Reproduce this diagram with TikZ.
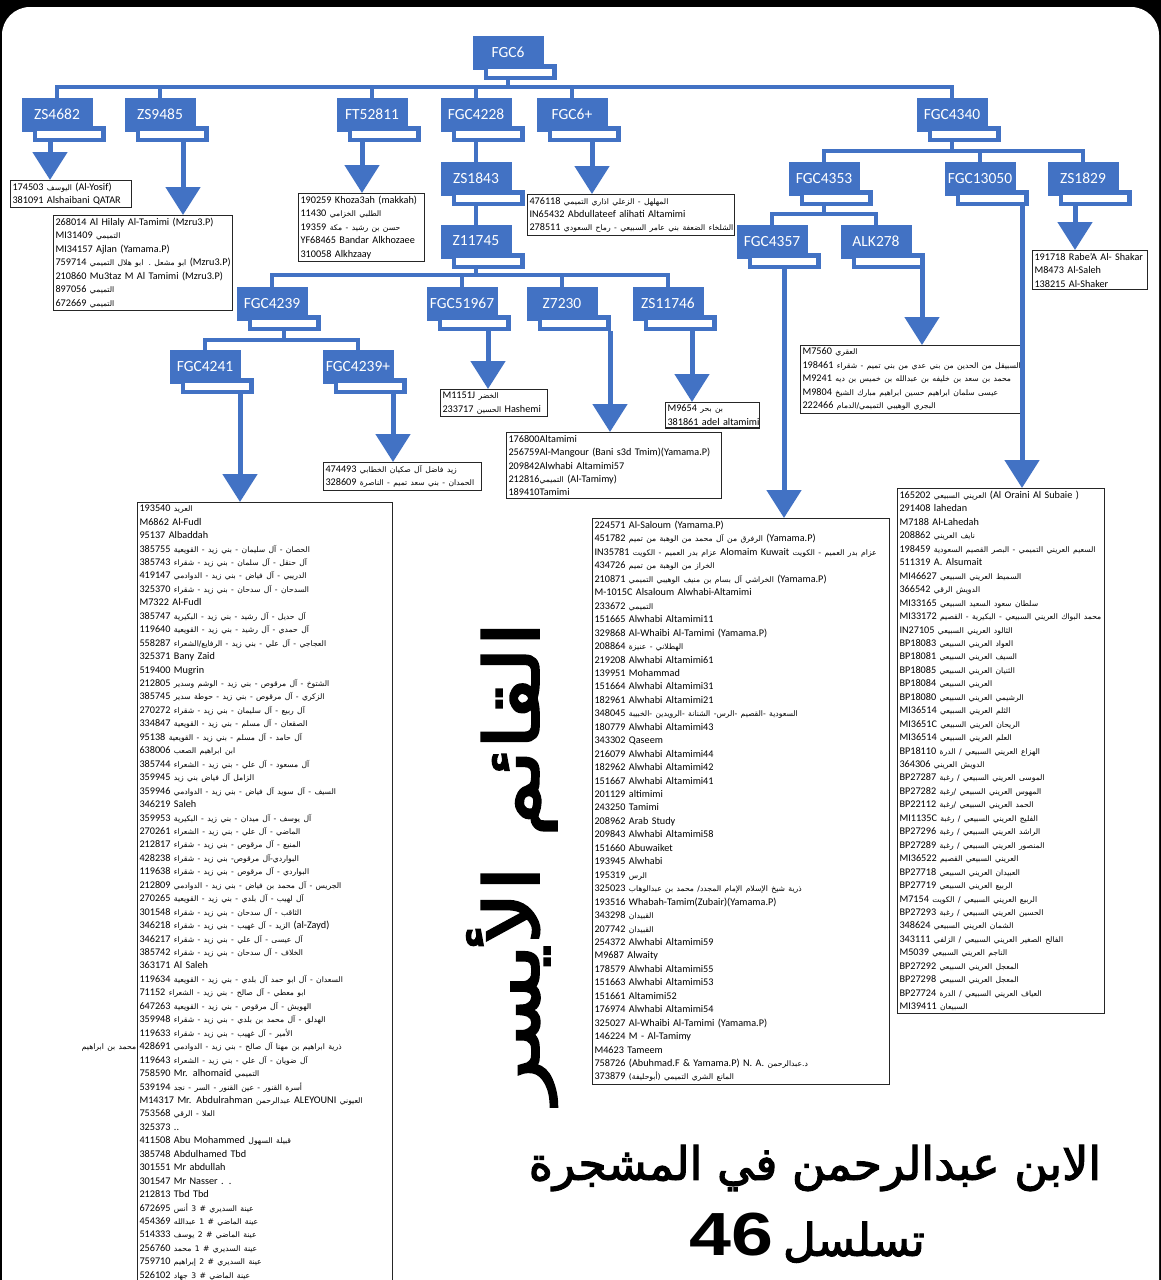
\documentclass[tikz,border=0pt]{standalone}
\usepackage{fontspec}
\usetikzlibrary{arrows.meta}
\setmainfont{Carlito}
\newfontfamily\arf[Script=Arabic,Scale=0.75]{DejaVu Sans}
\newfontfamily\arT[Script=Arabic,FakeBold=2.5]{DejaVu Sans}
\newfontfamily\libb{Liberation Sans}
\TeXXeTstate=1
\definecolor{hblue}{RGB}{66,114,196}
\newcommand\AR[1]{{\arf\beginR #1\endR}}
\newcommand\Li[1]{\mbox{#1}\\}
\newcommand\gnode[4]{%
  \node[gmain] (#1) at (#2,#3+2) {\raisebox{2pt}{#4}};
  \node[gsub] (#1s) at (#2+12,#3+21) {};}
\tikzset{
  gmain/.style={fill=hblue, text=white, minimum width=71pt, minimum height=34pt, inner sep=0pt, font=\fontsize{15.5}{15.5}\selectfont},
  gsub/.style={fill=white, draw=hblue, line width=4.5pt, minimum width=68.5pt, minimum height=11.5pt, inner sep=0pt},
  conn/.style={draw=hblue, line width=4pt},
  arr/.style={draw=hblue, line width=5pt, -{Triangle[width=34pt,length=28pt]}},
  lbox/.style={draw=black!85, line width=1.1pt, fill=white, anchor=north west, align=left, inner xsep=2pt, inner ysep=2.5pt, font=\fontsize{10.2}{13.45}\selectfont},
}
\begin{document}
\begin{tikzpicture}[x=1pt,y=-1pt]
\useasboundingbox (0,0) rectangle (1161,1280);
\fill[black] (0,0) rectangle (1161,1280);
\fill[white, rounded corners=28pt] (2,7) rectangle (1159,1330);

% ---------- hierarchy nodes ----------
\gnode{FGC6}{508}{51}{FGC6}
\gnode{ZS4682}{57}{113}{ZS4682}
\gnode{ZS9485}{160}{113}{ZS9485}
\gnode{FT52811}{372}{113}{FT52811}
\gnode{FGC4228}{476}{113}{FGC4228}
\gnode{FGC6p}{572}{113}{FGC6+}
\gnode{FGC4340}{952}{113}{FGC4340}
\gnode{ZS1843}{476}{177}{ZS1843}
\gnode{FGC4353}{824}{177}{FGC4353}
\gnode{FGC13050}{980}{177}{FGC13050}
\gnode{ZS1829}{1083}{177}{ZS1829}
\gnode{Z11745}{476}{240}{Z11745}
\gnode{FGC4357}{772}{240}{FGC4357}
\gnode{ALK278}{876}{240}{ALK278}
\gnode{FGC4239}{272}{302}{FGC4239}
\gnode{FGC51967}{462}{302}{FGC51967}
\gnode{Z7230}{562}{302}{Z7230}
\gnode{ZS11746}{668}{302}{ZS11746}
\gnode{FGC4241}{205}{365}{FGC4241}
\gnode{FGC4239p}{358}{365}{FGC4239+}

% ---------- buses ----------
\coordinate (b1) at (0,87);
\draw[conn] (FGC6 |- FGC6s.south) -- (FGC6 |- b1);
\draw[conn] (ZS4682.north) -- (ZS4682 |- b1) -- (FGC4340 |- b1) -- (FGC4340.north);
\foreach \n in {ZS9485,FT52811,FGC4228,FGC6p} \draw[conn] (\n |- b1) -- (\n.north);

\draw[conn] (FGC4228 |- FGC4228s.south) -- (ZS1843.north);
\draw[conn] (ZS1843 |- ZS1843s.south) -- (Z11745.north);

\coordinate (b2) at (0,275);
\draw[conn] (Z11745 |- Z11745s.south) -- (Z11745 |- b2);
\draw[conn] (FGC4239.north) -- (FGC4239 |- b2) -- (ZS11746 |- b2) -- (ZS11746.north);
\foreach \n in {FGC51967,Z7230} \draw[conn] (\n |- b2) -- (\n.north);

\coordinate (b3) at (0,340);
\draw[conn] (FGC4239s.south) -- (FGC4239s.south |- b3);
\draw[conn] (FGC4241.north) -- (FGC4241 |- b3) -- (FGC4239p |- b3) -- (FGC4239p.north);

\coordinate (b4) at (0,151);
\draw[conn] (FGC4340 |- FGC4340s.south) -- (FGC4340 |- b4);
\draw[conn] (FGC4353.north) -- (FGC4353 |- b4) -- (ZS1829 |- b4) -- (ZS1829.north);
\draw[conn] (FGC13050 |- b4) -- (FGC13050.north);

\coordinate (b5) at (0,214);
\draw[conn] (FGC4353 |- FGC4353s.south) -- (FGC4353 |- b5);
\draw[conn] (FGC4357.north) -- (FGC4357 |- b5) -- (ALK278 |- b5) -- (ALK278.north);

% ---------- list boxes ----------
\node[lbox, text width=117pt] (L1) at (10,180) {%
\Li{174503 \AR{اليوسف} (Al-Yosif)}
\mbox{381091 Alshaibani QATAR}};

\node[lbox, text width=175pt] (L2) at (53,215) {%
\Li{268014 Al Hilaly Al-Tamimi (Mzru3.P)}
\Li{MI31409 \AR{التميمي}}
\Li{MI34157 Ajlan (Yamama.P)}
\Li{759714 \AR{ابو مشعل . ابو هلال التميمي} (Mzru3.P)}
\Li{210860 Mu3taz M Al Tamimi (Mzru3.P)}
\Li{897056 \AR{التميمي}}
\mbox{672669 \AR{التميمي}}};

\node[lbox, text width=122pt] (L3) at (298,193) {%
\Li{190259 Khoza3ah (makkah)}
\Li{11430 \AR{الطلبي الخزامي}}
\Li{19359 \AR{حسن بن رشيد - مكة}}
\Li{YF68465 Bandar Alkhozaee}
\mbox{310058 Alkhzaay}};

\node[lbox, text width=203pt] (L4) at (527,194) {%
\Li{476118 \AR{المهلهل - الزعلي اذاري التميمي}}
\Li{IN65432 Abdullateef alihati Altamimi}
\mbox{278511 \AR{الشلخاء الضعفة بني عامر السبيعي - رماح السعودي}}};

\node[lbox, text width=111pt] (L5) at (1032,250) {%
\Li{191718 Rabe'A Al- Shakar}
\Li{M8473 Al-Saleh}
\mbox{138215 Al-Shaker}};

\node[lbox, text width=217pt] (L6) at (800,345) {%
\Li{M7560 \AR{العقري}}
\Li{198461 \AR{السبيقل من الحدين من بني عدي من بني تميم - شقراء}}
\Li{M9241 \AR{محمد بن سعد بن خليفه بن عبدالله بن خميس بن ديه}}
\Li{M9804 \AR{عيسى سلمان ابراهيم حسين ابراهيم مبارك الشيخ}}
\mbox{222466 \AR{البجري الوهيبي التميمي/الدمام}}};

\node[lbox, text width=103pt] (L7) at (440,389) {%
\Li{M1151J \AR{الخضر}}
\mbox{233717 \AR{الحسين} Hashemi}};

\node[lbox, text width=90pt] (L8) at (665,402) {%
\Li{M9654 \AR{بن بحر}}
\mbox{381861 adel altamimi}};

\node[lbox, text width=211pt] (L9) at (506,432) {%
\Li{176800Altamimi}
\Li{256759Al-Mangour (Bani s3d Tmim)(Yamama.P)}
\Li{209842Alwhabi Altamimi57}
\Li{212816\AR{التميمي} (Al-Tamimy)}
\mbox{189410Tamimi}};

\node[lbox, text width=154pt] (L10) at (323,462) {%
\Li{474493 \AR{زيد فاضل آل صكيان الخطابي}}
\mbox{328609 \AR{الحمدان - بني سعد تميم - الناصرة}}};

\node[lbox, text width=251pt] (L11) at (137,502) {%
\Li{193540 \AR{العريد}}
\Li{M6862 Al-Fudl}
\Li{95137 Albaddah}
\Li{385755 \AR{الحصان - آل سليمان - بني زيد - القويعية}}
\Li{385743 \AR{آل حنقل - آل سلمان - بني زيد - شقراء}}
\Li{419147 \AR{الدريبي - آل فياض - بني زيد - الدوادمي}}
\Li{325370 \AR{السدحان - آل سدحان - بني زيد - شقراء}}
\Li{M7322 Al-Fudl}
\Li{385747 \AR{آل حديل - آل رشيد - بني زيد - البكيرية}}
\Li{119640 \AR{آل حمدي - آل رشيد - بني زيد - القويعية}}
\Li{558287 \AR{العجاجي - آل علي - بني زيد - الرفايع/الشعراء}}
\Li{325371 Bany Zaid}
\Li{519400 Mugrin}
\Li{212805 \AR{الشتوخ - آل مرقوص - بني زيد - الوشم وسدير}}
\Li{385745 \AR{الزكري - آل مرقوص - بني زيد - حوطة سدير}}
\Li{270272 \AR{آل ربيع - آل سليمان - بني زيد - شقراء}}
\Li{334847 \AR{الصقعان - آل مسلم - بني زيد - القويعية}}
\Li{95138 \AR{آل حامد - آل مسلم - بني زيد - القويعية}}
\Li{638006 \AR{ابن ابراهيم الصعب}}
\Li{385744 \AR{آل مسعود - آل علي - بني زيد - الشعراء}}
\Li{359945 \AR{الزامل آل فياض بني زيد}}
\Li{359946 \AR{السيف - آل سويد آل فياض - بني زيد - الدوادمي}}
\Li{346219 Saleh}
\Li{359953 \AR{آل يوسف - آل ميدان - بني زيد - البكيرية}}
\Li{270261 \AR{الماضي - آل علي - بني زيد - الشعراء}}
\Li{212817 \AR{المنيع - آل مرقوص - بني زيد - شقراء}}
\Li{428238 \AR{البواردي-آل مرقوص- بني زيد - شقراء}}
\Li{119638 \AR{البواردي - آل مرقوص - بني زيد - شقراء}}
\Li{212809 \AR{الجريس - آل محمد بن فياض - بني زيد - الدوادمي}}
\Li{270265 \AR{آل لهيب - آل بلدي - بني زيد - القويعية}}
\Li{301548 \AR{الثاقب - آل سدحان - بني زيد - شقراء}}
\Li{346218 \AR{الزيد - آل غهيب - بني زيد - شقراء} (al-Zayd)}
\Li{346217 \AR{آل عيسى - آل علي - بني زيد - شقراء}}
\Li{385742 \AR{الخلاف - آل سدحان - بني زيد - شقراء}}
\Li{363171 Al Saleh}
\Li{119634 \AR{السعدان - آل ابو حمد آل بلدي - بني زيد - القويعية}}
\Li{71152 \AR{ابو معطي - آل صالح - بني زيد - الشعراء}}
\Li{647263 \AR{الهويش - آل مرقوص - بني زيد - القويعية}}
\Li{359948 \AR{الهدلق - آل محمد بن بلدي - بني زيد - شقراء}}
\Li{119633 \AR{الأمير - آل غهيب - بني زيد - شقراء}}
\Li{\llap{\AR{محمد بن ابراهيم}\ }428691 \AR{ذرية ابراهيم بن مهنا آل صالح - بني زيد - الدوادمي}}
\Li{119643 \AR{آل ضويان - آل علي - بني زيد - الشعراء}}
\Li{758590 Mr. alhomaid \AR{التميمي}}
\Li{539194 \AR{أسرة القنور - عين القنور - السر - نجد}}
\Li{M14317 Mr. Abdulrahman \AR{عبدالرحمن} ALEYOUNI \AR{العيوني}}
\Li{753568 \AR{العلا - الرقي}}
\Li{325373 ..}
\Li{411508 Abu Mohammed \AR{قبيلة السهول}}
\Li{385748 Abdulhamed Tbd}
\Li{301551 Mr abdullah}
\Li{301547 Mr Nasser . .}
\Li{212813 Tbd Tbd}
\Li{672695 \AR{عينة السديري \# 3 أنس}}
\Li{454369 \AR{عينة الماضي \# 1 عبدالله}}
\Li{514333 \AR{عينة الماضي \# 2 يوسف}}
\Li{256760 \AR{عينة السديري \# 1 محمد}}
\Li{759710 \AR{عينة السديري \# 2 إبراهيم}}
\mbox{526102 \AR{عينة الماضي \# 3 جهاد}}};

\node[lbox, text width=293pt] (L12) at (592,518) {%
\Li{224571 Al-Saloum (Yamama.P)}
\Li{451782 \AR{الرفرق من آل محمد من الوهبة من تميم} (Yamama.P)}
\Li{IN35781 \AR{عزام بدر العميم - الكويت} Alomaim Kuwait \AR{عزام بدر العميم - الكويت}}
\Li{434726 \AR{الخراز من الوهبة من تميم}}
\Li{210871 \AR{الخراشي آل بسام بن منيف الوهيبي التميمي} (Yamama.P)}
\Li{M-1015C Alsaloum Alwhabi-Altamimi}
\Li{233672 \AR{التميمي}}
\Li{151665 Alwhabi Altamimi11}
\Li{329868 Al-Whaibi Al-Tamimi (Yamama.P)}
\Li{208864 \AR{الهطلاني - عنيزة}}
\Li{219208 Alwhabi Altamimi61}
\Li{139951 Mohammad}
\Li{151664 Alwhabi Altamimi31}
\Li{182961 Alwhabi Altamimi21}
\Li{348045 \AR{السعودية -القصيم -الرس- الشنانة -الرويدين -الخبيبة}}
\Li{180779 Alwhabi Altamimi43}
\Li{343302 Qaseem}
\Li{216079 Alwhabi Altamimi44}
\Li{182962 Alwhabi Altamimi42}
\Li{151667 Alwhabi Altamimi41}
\Li{201129 altimimi}
\Li{243250 Tamimi}
\Li{208962 Arab Study}
\Li{209843 Alwhabi Altamimi58}
\Li{151660 Abuwaiket}
\Li{193945 Alwhabi}
\Li{195319 \AR{الرس}}
\Li{325023 \AR{ذرية شيخ الإسلام الإمام المجدد/ محمد بن عبدالوهاب}}
\Li{193516 Whabah-Tamim(Zubair)(Yamama.P)}
\Li{343298 \AR{القبيدان}}
\Li{207742 \AR{القبيدان}}
\Li{254372 Alwhabi Altamimi59}
\Li{M9687 Alwaity}
\Li{178579 Alwhabi Altamimi55}
\Li{151663 Alwhabi Altamimi53}
\Li{151661 Altamimi52}
\Li{176974 Alwhabi Altamimi54}
\Li{325027 Al-Whaibi Al-Tamimi (Yamama.P)}
\Li{146224 M - Al-Tamimy}
\Li{M4623 Tameem}
\Li{758726 (Abuhmad.F \& Yamama.P) N. A. \AR{د.عبدالرحمن}}
\mbox{373879 \AR{المانع الشري التميمي (أبوحليفة)}}};

\node[lbox, text width=203pt] (L13) at (897,488) {%
\Li{165202 \AR{العريني السبيعي} (Al Oraini Al Subaie )}
\Li{291408 lahedan}
\Li{M7188 Al-Lahedah}
\Li{208862 \AR{نايف العريني}}
\Li{198459 \AR{السعيم العريني التميمي - البصر القصيم السعودية}}
\Li{511319 A. Alsumait}
\Li{MI46627 \AR{السميط العريني السبيعي}}
\Li{366542 \AR{الدويش الرقي}}
\Li{MI33165 \AR{سلطان سعود السعيد السبيعي}}
\Li{MI33172 \AR{محمد البواك العريني السبيعي - البكيرية - القصيم}}
\Li{IN27105 \AR{الثالود العريني السبيعي}}
\Li{BP18083 \AR{العواد العريني السبيعي}}
\Li{BP18081 \AR{السيف العريني السبيعي}}
\Li{BP18085 \AR{الثنيان العريني السبيعي}}
\Li{BP18084 \AR{العريني السبيعي}}
\Li{BP18080 \AR{الرشيمي العريني السبيعي}}
\Li{MI36514 \AR{الثلم العريني السبيعي}}
\Li{MI3651C \AR{الريحان العريني السبيعي}}
\Li{MI36514 \AR{العلم العريني السبيعي}}
\Li{BP18110 \AR{الهزاع العريني السبيعي / الدرة}}
\Li{364306 \AR{الدويش العريني}}
\Li{BP27287 \AR{الموسى العريني السبيعي / رغبة}}
\Li{BP27282 \AR{المهوس العريني السبيعي /رغبة}}
\Li{BP22112 \AR{الحمد العريني السبيعي /رغبة}}
\Li{MI1135C \AR{الفليج العريني السبيعي / رغبة}}
\Li{BP27296 \AR{الراشد العريني السبيعي / رغبة}}
\Li{BP27289 \AR{المنصور العريني السبيعي / رغبة}}
\Li{MI36522 \AR{العريني السبيعي القصيم}}
\Li{BP27718 \AR{العبيدان العريني السبيعي}}
\Li{BP27719 \AR{الربيع العريني السبيعي}}
\Li{M7154 \AR{الربيع العريني السبيعي / الكويت}}
\Li{BP27293 \AR{الحسين العريني السبيعي / رغبة}}
\Li{348624 \AR{الشمان العريني السبيعي}}
\Li{343111 \AR{الفالح الصغير العريني السبيعي / الزلفي}}
\Li{M5039 \AR{الناجم العريني السبيعي}}
\Li{BP27292 \AR{المعجل العريني السبيعي}}
\Li{BP27298 \AR{المعجل العريني السبيعي}}
\Li{BP27724 \AR{العياف العريني السبيعي / الدرة}}
\mbox{MI39411 \AR{السبيعان}}};

% ---------- arrows ----------
\draw[arr] ([xshift=-19pt]ZS4682s.south) -- ([xshift=-19pt]ZS4682s.south |- L1.north);
\draw[arr] ([xshift=11pt]ZS9485s.south) -- ([xshift=11pt]ZS9485s.south |- L2.north);
\draw[arr] ([xshift=-22pt]FT52811s.south) -- ([xshift=-22pt]FT52811s.south |- L3.north);
\draw[arr] ([xshift=8pt]FGC6ps.south) -- ([xshift=8pt]FGC6ps.south |- L4.north);
\draw[arr] ([xshift=-20pt]ZS1829s.south) -- ([xshift=-20pt]ZS1829s.south |- L5.north);
\draw[arr] ([xshift=34pt]ALK278s.south) -- ([xshift=34pt]ALK278s.south |- L6.north);
\draw[arr] ([xshift=14pt]FGC51967s.south) -- ([xshift=14pt]FGC51967s.south |- L7.north);
\draw[arr] ([xshift=12pt]ZS11746s.south) -- ([xshift=12pt]ZS11746s.south |- L8.north);
\draw[arr] ([xshift=36pt]Z7230s.south) -- ([xshift=36pt]Z7230s.south |- L9.north);
\draw[arr] ([xshift=23pt]FGC4239ps.south) -- ([xshift=23pt]FGC4239ps.south |- L10.north);
\draw[arr] ([xshift=23pt]FGC4241s.south) -- ([xshift=23pt]FGC4241s.south |- L11.north);
\draw[arr] (FGC4357s.south) -- (FGC4357s.south |- L12.north);
\draw[arr] ([xshift=30pt]FGC13050s.south) -- ([xshift=30pt]FGC13050s.south |- L13.north);

% ---------- titles ----------
\node[rotate=90, font=\arT\fontsize{72}{72}\selectfont, inner sep=0pt] (vtitle) at (512,862) {\scalebox{1.28}[1.05]{\beginR القائم الأيسر\endR}};
\node[font=\arT\fontsize{46}{46}\selectfont, inner sep=0pt] (title1) at (815,1168) {\beginR الابن عبدالرحمن في المشجرة\endR};
\node[inner sep=0pt] (title2) at (807,1238) {\scalebox{1.3}[1.05]{\libb\bfseries\fontsize{58}{58}\selectfont 46}\hspace{10pt}{\arT\fontsize{45}{45}\selectfont تسلسل}};
\end{tikzpicture}
\end{document}
